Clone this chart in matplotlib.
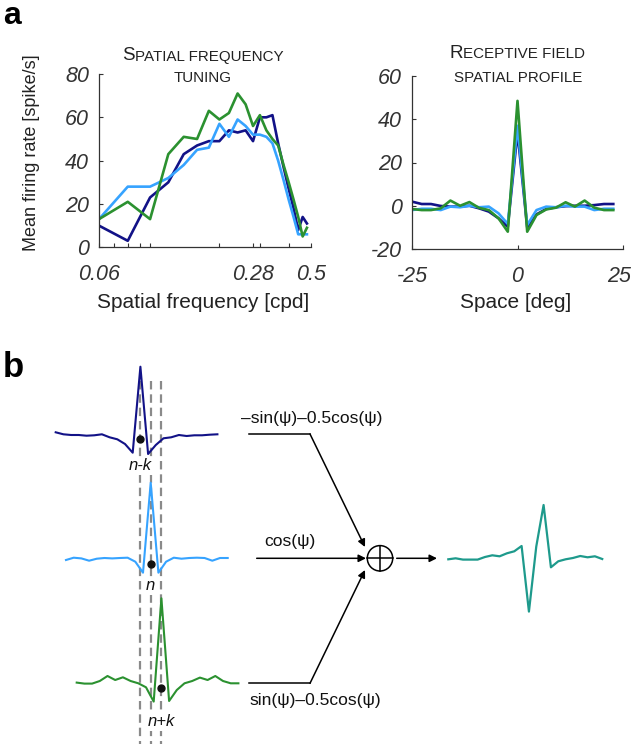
import numpy as np
import matplotlib
matplotlib.use("Agg")
import matplotlib.pyplot as plt
import matplotlib.transforms as mtransforms
from matplotlib.offsetbox import TextArea, HPacker, AnnotationBbox
from matplotlib.patches import Circle
from matplotlib.ticker import NullFormatter

plt.rcParams['font.family'] = ['Liberation Sans', 'DejaVu Sans']
plt.rcParams['axes.unicode_minus'] = False

# ---------------- data ----------------
sf_cpd = [0.06, 0.08, 0.10, 0.12, 0.14, 0.16, 0.18, 0.20, 0.22, 0.24, 0.26,
          0.28, 0.30, 0.32, 0.34, 0.36, 0.38, 0.40, 0.42, 0.44, 0.46, 0.48]
rate_dark = [10, 3, 23, 30, 43, 47, 49, 49, 54, 53, 54,
             49, 60, 60, 61, 48, 37, 27, 18, 8, 14, 11]
rate_light = [13, 28, 28, 32, 38, 45, 46, 57, 51, 59, 56,
              52, 52, 51, 48, 40, 31, 22, 14, 6, 6, 6]
rate_green = [13, 21, 13, 43, 51, 50, 63, 59, 62, 71, 66,
              56, 61, 54, 50, 47, 38, 30, 22, 14, 5, 9]

space_deg = [-25.0, -22.7, -20.5, -18.2, -15.9, -13.6, -11.4, -9.1, -6.8, -4.5, -2.3,
             0.0, 2.3, 4.5, 6.8, 9.1, 11.4, 13.6, 15.9, 18.2, 20.5, 22.7]
rf_dark = [1.9, 0.8, 0.8, -0.1, -0.4, -0.4, 0.0, -1.2, -2.7, -5.8, -9.7,
           34, -10, -4, -1.5, -0.7, -0.2, 0.0, 0.0, 0.3, 0.8, 0.8]
rf_light = [-2, -1.4, -1.4, -2, -0.4, -0.7, 0.0, -0.7, -0.4, -3.5, -8.4,
            37, -8.9, -2, -0.4, -0.7, 0.0, -0.4, -0.4, -2, -1.4, -1.4]
rf_green = [-1.5, -2, -2, -1.2, 2.4, 0.0, 1.7, -1, -2, -5.8, -12,
            48.5, -12, -4.3, -1.7, -0.9, 1.6, -0.4, 2.4, -0.9, -2, -2]

# panel b profiles (arbitrary units)
b_dark = [1.7, -0.3, -1, -1, -1.7, -1.3, -0.3, -3.3, -5.3, -10, -18.7,
          67.3, -20, -11, -4.3, -3.3, -1, -2, -1.3, -1.3, -0.7, -0.3]
b_light = [-1.3, 1, 0.3, -2, 0, 0.7, 0.3, 0.7, 1, -3, -14,
           76, -14, -3, 1, 0, 0.7, 1, 0.7, -2, 0.7, 0.7]
b_green = [0.7, -0.3, -0.3, 2.3, 7.3, 3.3, 6, 2.3, 0, -4, -18.3,
           85, -17.7, -6.7, 0, 2.3, 5.7, 3.3, 7.3, 2.3, 0, 0]
b_sum = [0, 1, -0.3, -0.3, -0.3, 2.3, 4, 3, 6, 8, 13.3,
         -52.3, 12.7, 54.3, -8, -2, 0, 1.3, 3.3, 2, 3, 0.3]

weights = ['–sin(ψ)–0.5cos(ψ)', 'cos(ψ)', 'sin(ψ)–0.5cos(ψ)']
pos_labels = ['n-k', 'n', 'n+k']

C_DARK = '#121287'
C_LIGHT = '#36a3ff'
C_GREEN = '#2b9130'
C_TEAL = '#1e9a8c'

W, H = 633, 744
fig = plt.figure(figsize=(W / 100, H / 100), dpi=100)

TICK_FS = 15.5
tick_kw = dict(fontsize=TICK_FS, style='italic', color='#333333')


def style_axes(ax):
    for s in ('top', 'right'):
        ax.spines[s].set_visible(False)
    for s in ('left', 'bottom'):
        ax.spines[s].set_color('#333333')
        ax.spines[s].set_linewidth(0.9)
    ax.tick_params(which='both', direction='in', length=3, width=0.8, color='#333333')
    ax.tick_params(axis='y', pad=7)
    ax.tick_params(axis='x', pad=12)


def fig_axes(x0, y0, x1, y1):
    return fig.add_axes([x0 / W, 1 - y1 / H, (x1 - x0) / W, (y1 - y0) / H])


# ---------------- panel a, left ----------------
ax1 = fig_axes(99, 74, 311, 247.3)
ax1.plot(sf_cpd, rate_dark, color=C_DARK, lw=1.9)
ax1.plot(sf_cpd, rate_light, color=C_LIGHT, lw=1.9)
ax1.plot(sf_cpd, rate_green, color=C_GREEN, lw=1.9)
ax1.set_xscale('log')
ax1.set_xlim(0.06, 0.5)
ax1.set_ylim(0, 80)
ax1.set_xticks([0.06, 0.28, 0.5])
ax1.set_xticklabels(['0.06', '0.28', '0.5'], **tick_kw)
ax1.set_xticks([0.07, 0.08, 0.09, 0.1, 0.2, 0.3, 0.4], minor=True)
ax1.xaxis.set_minor_formatter(NullFormatter())
ax1.set_yticks([0, 20, 40, 60, 80])
ax1.set_yticklabels(['0', '20', '40', '60', '80'], **tick_kw)
style_axes(ax1)

# ---------------- panel a, right ----------------
ax2 = fig_axes(412, 76, 623, 249)
ax2.plot(space_deg, rf_dark, color=C_DARK, lw=1.9)
ax2.plot(space_deg, rf_light, color=C_LIGHT, lw=1.9)
ax2.plot(space_deg, rf_green, color=C_GREEN, lw=1.9)
ax2.set_xlim(-25, 25)
ax2.set_ylim(-20, 60)
ax2.set_xticks([-25, 0, 25])
ax2.set_xticklabels(['-25', '0', '25'], **tick_kw)
ax2.set_yticks([-20, 0, 20, 40, 60])
ax2.set_yticklabels(['-20', '0', '20', '40', '60'], **tick_kw)
style_axes(ax2)
# keep the last tick label inside the canvas
last = ax2.get_xticklabels()[-1]
last.set_transform(last.get_transform() +
                   mtransforms.ScaledTranslation(-4 / 100, 0, fig.dpi_scale_trans))

# axis labels
fig.text(203.5 / W, 1 - 303 / H, 'Spatial frequency [cpd]', ha='center', va='center',
         fontsize=15, color='#222222')
fig.text(515.5 / W, 1 - 303 / H, 'Space [deg]', ha='center', va='center',
         fontsize=15, color='#222222')
fig.text(32 / W, 1 - 153 / H, 'Mean firing rate [spike/s]', ha='center', va='center',
         rotation=90, fontsize=13, color='#222222')


def small_caps(x, y, parts):
    areas = [TextArea(t, textprops=dict(fontsize=s, color='#222222')) for t, s in parts]
    box = HPacker(children=areas, align='baseline', pad=0, sep=0)
    ab = AnnotationBbox(box, (x / W, 1 - y / H), xycoords='figure fraction',
                        frameon=False, box_alignment=(0.5, 0.5), pad=0)
    fig.add_artist(ab)


BIG, SMALL = 13.5, 10.9
small_caps(203, 56, [('S', BIG), ('PATIAL FREQUENCY', SMALL)])
small_caps(203, 78, [('TUNING', SMALL)])
small_caps(517, 54, [('R', BIG), ('ECEPTIVE FIELD', SMALL)])
small_caps(518, 78, [('SPATIAL PROFILE', SMALL)])

fig.text(3 / W, 1 - 1 / H, 'a', fontsize=23, fontweight='bold', va='top', ha='left')
fig.text(3 / W, 1 - 377 / H, 'b', fontsize=25, fontweight='bold', va='baseline', ha='left')

# ---------------- panel b (diagram, pixel canvas) ----------------
axd = fig.add_axes([0, 0, 1, 1])
axd.set_xlim(0, W)
axd.set_ylim(H, 0)
axd.axis('off')
axd.patch.set_alpha(0)

step = 7.7
n = len(b_dark)
idx = np.arange(n)
curves = [(b_dark, C_DARK, 55.7, 434.0),
          (b_light, C_LIGHT, 66.0, 558.7),
          (b_green, C_GREEN, 76.7, 683.3)]
peak_x = []
for vals, col, x0, base in curves:
    xs = x0 + idx * step
    ys = base - np.asarray(vals)
    peak_x.append(xs[int(np.argmax(vals))])
    axd.plot(xs, ys, color=col, lw=1.5, zorder=3)

# dashed guide lines through peaks
for px in peak_x:
    axd.plot([px, px], [381, H], color='#8a8a8a', lw=1.6, ls=(0, (3.8, 2.2)), zorder=2)

# dots and position labels
label_y = [466, 586, 722]
for (vals, col, x0, base), px, lab, ly in zip(curves, peak_x, pos_labels, label_y):
    axd.plot(px, base + 5, 'o', color='#111111', ms=5, zorder=4)
    axd.text(px, ly, lab, ha='center', va='center', fontsize=12, style='italic',
             color='#111111', zorder=5,
             bbox=dict(boxstyle='square,pad=0.1', fc='white', ec='none'))

# weights and arrows
cx, cy, r = 380, 558.3, 12.7
arrow_kw = dict(arrowstyle='-|>', lw=1.1, color='black', mutation_scale=11,
                shrinkA=0, shrinkB=0)
# top branch
axd.plot([249.3, 310], [434, 434], color='black', lw=1.1)
axd.annotate('', xy=(365, 547), xytext=(310, 434), arrowprops=arrow_kw)
# middle
axd.annotate('', xy=(366, cy), xytext=(256.7, cy), arrowprops=arrow_kw)
# bottom
axd.plot([249.3, 310], [683.3, 683.3], color='black', lw=1.1)
axd.annotate('', xy=(365, 570), xytext=(310, 683.3), arrowprops=arrow_kw)
# output
axd.annotate('', xy=(437, cy), xytext=(396.7, cy), arrowprops=arrow_kw)

WFS = 12.5
axd.text(312, 418, weights[0], ha='center', va='center', fontsize=WFS, color='#111111')
axd.text(290, 541.5, weights[1], ha='center', va='center', fontsize=WFS, color='#111111')
axd.text(315, 701, weights[2], ha='center', va='center', fontsize=WFS, color='#111111')

axd.add_patch(Circle((cx, cy), r, fill=False, lw=1.1, color='black'))
axd.plot([cx - r, cx + r], [cy, cy], color='black', lw=1.1)
axd.plot([cx, cx], [cy - r, cy + r], color='black', lw=1.1)

# output profile
xs = 448.3 + np.arange(len(b_sum)) * 7.33
axd.plot(xs, 559.3 - np.asarray(b_sum), color=C_TEAL, lw=1.6)

fig.savefig('out.png', dpi=100)
